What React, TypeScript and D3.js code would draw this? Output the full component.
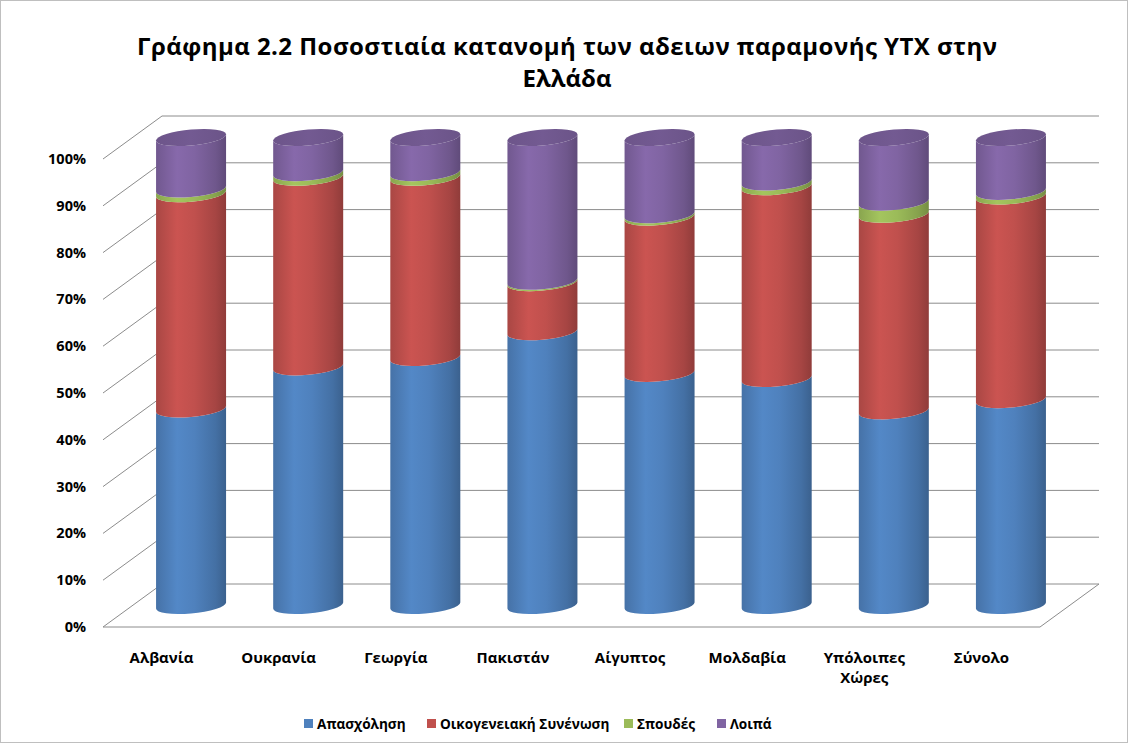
import React from 'react';
import * as d3 from 'd3';

// Γράφημα 2.2 - 3D stacked cylinders (100%)

const categories = ['Αλβανία', 'Ουκρανία', 'Γεωργία', 'Πακιστάν', 'Αίγυπτος', 'Μολδαβία', 'Υπόλοιπες Χώρες', 'Σύνολο'];
const seriesNames = ['Απασχόληση', 'Οικογενειακή Συνένωση', 'Σπουδές', 'Λοιπά'];
const apasxolisi = [42, 51, 53, 58.5, 49.6, 48.5, 41.6, 44];
const oikogeneiaki = [46, 40.5, 38.5, 10.5, 33.4, 41, 42, 43.5];
const spoudes = [1, 1, 1, 0.3, 0.5, 1, 2.6, 1];
const loipa = [11, 7.5, 7.5, 30.7, 16.5, 9.5, 13.8, 11.5];
const colors = ['#4F81BD', '#C0504D', '#9BBB59', '#8064A2'];
const yTicks = [0, 0.1, 0.2, 0.3, 0.4, 0.5, 0.6, 0.7, 0.8, 0.9, 1];

const W = 1128;
const H = 743;
const FONT = '"Open Sans", "DejaVu Sans", sans-serif';

// front plane of the 3D box and its depth offset
const left = 103, right = 1040, bottom = 627, top = 159;
const depthX = 59, depthY = -43;
const rx = 35, ry = 8;
const tilt = -5;

export default function App() {
  const x = d3.scaleBand().domain(categories).range([left, right]);
  const y = d3.scaleLinear().domain([0, 1]).range([bottom, top]);
  const fmt = d3.format('.0%');
  const series = [apasxolisi, oikogeneiaki, spoudes, loipa];

  const data = categories.map((c, i) => {
    const row: any = { cat: c };
    seriesNames.forEach((s, k) => (row[s] = series[k][i]));
    return row;
  });
  const stacked = d3.stack().keys(seriesNames).offset(d3.stackOffsetExpand)(data);

  const shade = (c: string, k: number) => {
    const col = d3.color(c)!;
    return k >= 0 ? col.brighter(k).formatHex() : col.darker(-k).formatHex();
  };

  // body of one segment in local (skewed) coordinates
  const segPath = (y0: number, y1: number) =>
    `M${-rx},${y1} L${-rx},${y0} A${rx},${ry} 0 0 0 ${rx},${y0} L${rx},${y1} A${rx},${ry} 0 0 1 ${-rx},${y1} Z`;

  return (
    <svg width={W} height={H} style={{ position: 'absolute', left: 0, top: 0, background: '#fff' }} fontFamily={FONT}>
      <defs>
        {colors.map((c, k) => (
          <linearGradient key={k} id={'g' + k} x1="0" x2="1" y1="0" y2="0">
            <stop offset="0" stopColor={shade(c, -0.35)} />
            <stop offset="0.3" stopColor={shade(c, 0.15)} />
            <stop offset="0.55" stopColor={c} />
            <stop offset="0.85" stopColor={shade(c, -0.4)} />
            <stop offset="1" stopColor={shade(c, -0.8)} />
          </linearGradient>
        ))}
        <linearGradient id="cap" x1="0" x2="1" y1="0" y2="0">
          <stop offset="0" stopColor={shade(colors[3], -0.45)} />
          <stop offset="0.5" stopColor={shade(colors[3], -0.3)} />
          <stop offset="1" stopColor={shade(colors[3], -0.5)} />
        </linearGradient>
      </defs>
      <rect x={0.5} y={0.5} width={W - 1} height={H - 1} fill="#fff" stroke="#bfbfbf" />

      <text x={567} y={55} textAnchor="middle" fontSize={24} fontWeight="bold" fill="#000" textLength={860} lengthAdjust="spacing">
        Γράφημα 2.2 Ποσοστιαία κατανομή των αδειων παραμονής ΥΤΧ στην
      </text>
      <text x={567} y={87} textAnchor="middle" fontSize={24} fontWeight="bold" fill="#000">
        Ελλάδα
      </text>

      {/* walls and floor */}
      <g stroke="#8c8c8c" strokeWidth={1} fill="none">
        {yTicks.map((t) => (
          <g key={t}>
            <line x1={left} y1={y(t)} x2={left + depthX} y2={y(t) + depthY} />
            <line x1={left + depthX} y1={y(t) + depthY} x2={right + depthX} y2={y(t) + depthY} />
          </g>
        ))}
        <line x1={left} y1={y(0)} x2={right} y2={y(0)} />
        <line x1={right} y1={y(0)} x2={right + depthX} y2={y(0) + depthY} />
      </g>

      {/* y axis */}
      {yTicks.map((t) => (
        <text key={t} x={86} y={y(t)} dy="0.35em" textAnchor="end" fontSize={14.5} fontWeight="bold" fill="#000">
          {fmt(t)}
        </text>
      ))}

      {/* cylinders */}
      {categories.map((c, i) => {
        const cx = x(c)! + x.bandwidth() / 2 + depthX / 2;
        const off = depthY / 2;
        return (
          <g key={c} transform={`translate(${cx},0) skewY(${tilt})`}>
            {stacked.map((s, k) => {
              const [v0, v1] = s[i];
              if (v1 - v0 <= 0) return null;
              return <path key={k} d={segPath(y(v0) + off, y(v1) + off)} fill={`url(#g${k})`} />;
            })}
            <ellipse cx={0} cy={y(1) + off} rx={rx} ry={ry} fill="url(#cap)" />
          </g>
        );
      })}

      {/* x labels */}
      {categories.map((c) => {
        const words = c === 'Υπόλοιπες Χώρες' ? ['Υπόλοιπες', 'Χώρες'] : [c];
        return (
          <text key={c} x={x(c)! + x.bandwidth() / 2} y={663} textAnchor="middle" fontSize={15} fontWeight="bold" fill="#000">
            {words.map((w, j) => (
              <tspan key={j} x={x(c)! + x.bandwidth() / 2} dy={j === 0 ? 0 : 20}>
                {w}
              </tspan>
            ))}
          </text>
        );
      })}

      {/* legend */}
      {seriesNames.map((s, k) => {
        const lx = [304, 427, 624, 717][k];
        return (
          <g key={s}>
            <rect x={lx} y={719} width={9} height={9} fill={colors[k]} />
            <text x={lx + 13} y={724} dy="0.35em" fontSize={13.6} fontWeight="bold" fill="#000">
              {s}
            </text>
          </g>
        );
      })}
    </svg>
  );
}
